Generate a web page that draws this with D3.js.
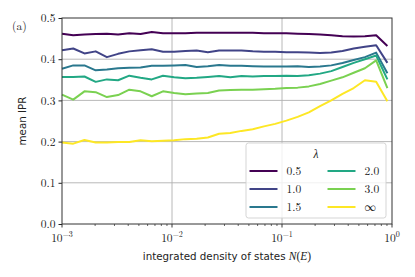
<!DOCTYPE html>
<html>
<head>
<meta charset="utf-8">
<script src="https://cdn.jsdelivr.net/npm/d3@7"></script>
<style>
  body { margin: 0; background: #fff; }
  svg { display: block; }
  .tick-label { font-family: "Latin Modern Roman", "Liberation Serif", serif; font-size: 11.5px; fill: #222; }
  .axis-label { font-family: "DejaVu Sans", sans-serif; font-size: 10.3px; fill: #222; }
</style>
</head>
<body>
<div id="chart"></div>
<script>
// integrated density of states N(E), log-spaced bins
const dos = [0.001, 0.001265, 0.0016, 0.002023, 0.002559, 0.003236, 0.004093, 0.005176, 0.006546, 0.008279,
  0.01047, 0.01324, 0.01675, 0.02118, 0.02679, 0.03388, 0.04285, 0.0542, 0.06855, 0.0867,
  0.1096, 0.1387, 0.1754, 0.2218, 0.2805, 0.3548, 0.4487, 0.5675, 0.7178, 0.9078];

const lambdas = ['0.5', '1.0', '1.5', '2.0', '3.0', '\u221e'];

const ipr05 = [0.462, 0.458, 0.460, 0.461, 0.462, 0.460, 0.463, 0.461, 0.466, 0.463,
  0.463, 0.463, 0.464, 0.464, 0.464, 0.464, 0.464, 0.464, 0.463, 0.463,
  0.463, 0.462, 0.461, 0.460, 0.458, 0.456, 0.455, 0.456, 0.458, 0.432];
const ipr10 = [0.422, 0.426, 0.414, 0.419, 0.405, 0.413, 0.419, 0.422, 0.424, 0.418,
  0.418, 0.420, 0.421, 0.417, 0.421, 0.421, 0.421, 0.419, 0.418, 0.418,
  0.417, 0.417, 0.416, 0.415, 0.416, 0.420, 0.426, 0.430, 0.434, 0.391];
const ipr15 = [0.377, 0.385, 0.385, 0.373, 0.375, 0.378, 0.379, 0.380, 0.384, 0.384,
  0.385, 0.386, 0.381, 0.383, 0.386, 0.384, 0.384, 0.383, 0.382, 0.382,
  0.382, 0.383, 0.381, 0.382, 0.385, 0.391, 0.398, 0.405, 0.416, 0.366];
const ipr20 = [0.357, 0.357, 0.358, 0.345, 0.351, 0.349, 0.360, 0.355, 0.351, 0.360,
  0.356, 0.354, 0.355, 0.357, 0.359, 0.356, 0.359, 0.358, 0.359, 0.359,
  0.360, 0.359, 0.361, 0.365, 0.371, 0.381, 0.391, 0.400, 0.409, 0.351];
const ipr30 = [0.314, 0.302, 0.322, 0.320, 0.308, 0.313, 0.326, 0.322, 0.310, 0.322,
  0.318, 0.315, 0.317, 0.318, 0.324, 0.325, 0.326, 0.326, 0.327, 0.328,
  0.330, 0.331, 0.334, 0.340, 0.348, 0.356, 0.367, 0.378, 0.397, 0.330];
const iprInf = [0.198, 0.195, 0.204, 0.198, 0.198, 0.199, 0.199, 0.203, 0.201, 0.202,
  0.203, 0.206, 0.207, 0.210, 0.219, 0.221, 0.226, 0.230, 0.237, 0.243,
  0.251, 0.260, 0.271, 0.286, 0.300, 0.316, 0.330, 0.349, 0.345, 0.298];

const series = [ipr05, ipr10, ipr15, ipr20, ipr30, iprInf];
const yTicks = [0.0, 0.1, 0.2, 0.3, 0.4, 0.5];
const xTickExp = [-3, -2, -1, 0];

const width = 415, height = 277;
const margin = { left: 62, right: 23, top: 18, bottom: 53 };

const svg = d3.select('#chart').append('svg')
  .attr('width', width)
  .attr('height', height);

const x = d3.scaleLog().domain([1e-3, 1]).range([margin.left, width - margin.right]);
const y = d3.scaleLinear().domain([0, 0.5]).range([height - margin.bottom, margin.top]);
const color = d3.scaleOrdinal().domain(lambdas)
  .range(lambdas.map((d, i) => d3.interpolateViridis(i / (lambdas.length - 1))));

// grid
svg.append('g')
  .selectAll('line.xg')
  .data(xTickExp.slice(1, -1))
  .join('line')
  .attr('x1', d => x(Math.pow(10, d))).attr('x2', d => x(Math.pow(10, d)))
  .attr('y1', y(0)).attr('y2', y(0.5))
  .attr('stroke', '#b0b0b0').attr('stroke-width', 0.9);
svg.append('g')
  .selectAll('line.yg')
  .data(yTicks.slice(1, -1))
  .join('line')
  .attr('x1', x(1e-3)).attr('x2', x(1))
  .attr('y1', d => y(d)).attr('y2', d => y(d))
  .attr('stroke', '#b0b0b0').attr('stroke-width', 0.9);

// lines
const line = d3.line()
  .x((d, i) => x(dos[i]))
  .y(d => y(d));

svg.append('g')
  .selectAll('path')
  .data(series)
  .join('path')
  .attr('d', d => line(d))
  .attr('fill', 'none')
  .attr('stroke', (d, i) => color(lambdas[i]))
  .attr('stroke-width', 2)
  .attr('stroke-linejoin', 'round');

// y axis
const yAxis = svg.append('g')
  .attr('transform', `translate(${x(1e-3)},0)`)
  .call(d3.axisLeft(y).tickValues(yTicks).tickFormat(d3.format('.1f')).tickSize(3.5).tickPadding(3));
yAxis.select('.domain').remove();
yAxis.selectAll('.tick line').attr('stroke', '#222');
yAxis.selectAll('.tick text').attr('class', 'tick-label').attr('font-family', null).attr('font-size', null);

// x axis: minor ticks
const minor = [];
for (let e = -3; e < 0; e++) {
  for (let m = 2; m < 10; m++) minor.push(m * Math.pow(10, e));
}
const xAxis = svg.append('g').attr('transform', `translate(0,${y(0)})`);
xAxis.selectAll('line.minor')
  .data(minor)
  .join('line')
  .attr('x1', d => x(d)).attr('x2', d => x(d))
  .attr('y1', 0).attr('y2', 2)
  .attr('stroke', '#222').attr('stroke-width', 0.7);
xAxis.selectAll('line.major')
  .data(xTickExp)
  .join('line')
  .attr('x1', d => x(Math.pow(10, d))).attr('x2', d => x(Math.pow(10, d)))
  .attr('y1', 0).attr('y2', 3.5)
  .attr('stroke', '#222').attr('stroke-width', 0.9);
const xl = xAxis.selectAll('text.xt')
  .data(xTickExp)
  .join('text')
  .attr('class', 'tick-label')
  .attr('x', d => x(Math.pow(10, d)))
  .attr('y', 18)
  .attr('text-anchor', 'middle');
xl.append('tspan').text('10');
xl.append('tspan')
  .attr('dy', -5)
  .attr('font-size', '8px')
  .text(d => d === 0 ? '0' : '\u2212' + Math.abs(d));

// frame
svg.append('rect')
  .attr('x', x(1e-3)).attr('y', y(0.5))
  .attr('width', x(1) - x(1e-3)).attr('height', y(0) - y(0.5))
  .attr('fill', 'none').attr('stroke', '#333').attr('stroke-width', 1);

// labels
svg.append('text')
  .attr('class', 'axis-label')
  .attr('x', (x(1e-3) + x(1)) / 2)
  .attr('y', 260)
  .attr('text-anchor', 'middle')
  .html('integrated density of states <tspan font-family="Liberation Serif, serif" font-style="italic" font-size="11.5px">N</tspan><tspan font-family="Liberation Serif, serif" font-size="11.5px">(</tspan><tspan font-family="Liberation Serif, serif" font-style="italic" font-size="11.5px">E</tspan><tspan font-family="Liberation Serif, serif" font-size="11.5px">)</tspan>');

svg.append('text')
  .attr('class', 'axis-label')
  .attr('transform', `translate(26,${(y(0) + y(0.5)) / 2}) rotate(-90)`)
  .attr('text-anchor', 'middle')
  .text('mean IPR');

svg.append('text')
  .attr('class', 'tick-label')
  .attr('x', 12).attr('y', 30)
  .text('(a)');

// legend
const lg = svg.append('g').attr('transform', 'translate(246,143)');
lg.append('rect')
  .attr('width', 140).attr('height', 75).attr('rx', 2.5)
  .attr('fill', 'rgba(255,255,255,0.8)')
  .attr('stroke', '#d0d0d0').attr('stroke-width', 0.9);
lg.append('text')
  .attr('class', 'tick-label')
  .attr('x', 70).attr('y', 15)
  .attr('text-anchor', 'middle')
  .attr('font-style', 'italic')
  .text('\u03bb');
const items = lg.selectAll('g.item')
  .data(lambdas)
  .join('g')
  .attr('transform', (d, i) => `translate(${Math.floor(i / 3) * 78 + 3.5},${28 + (i % 3) * 18})`);
items.append('line')
  .attr('x1', 0).attr('x2', 28)
  .attr('stroke', d => color(d)).attr('stroke-width', 2);
items.append('text')
  .attr('class', 'tick-label')
  .attr('font-size', '12px')
  .attr('x', 37).attr('y', 4)
  .text(d => d);
</script>
</body>
</html>
